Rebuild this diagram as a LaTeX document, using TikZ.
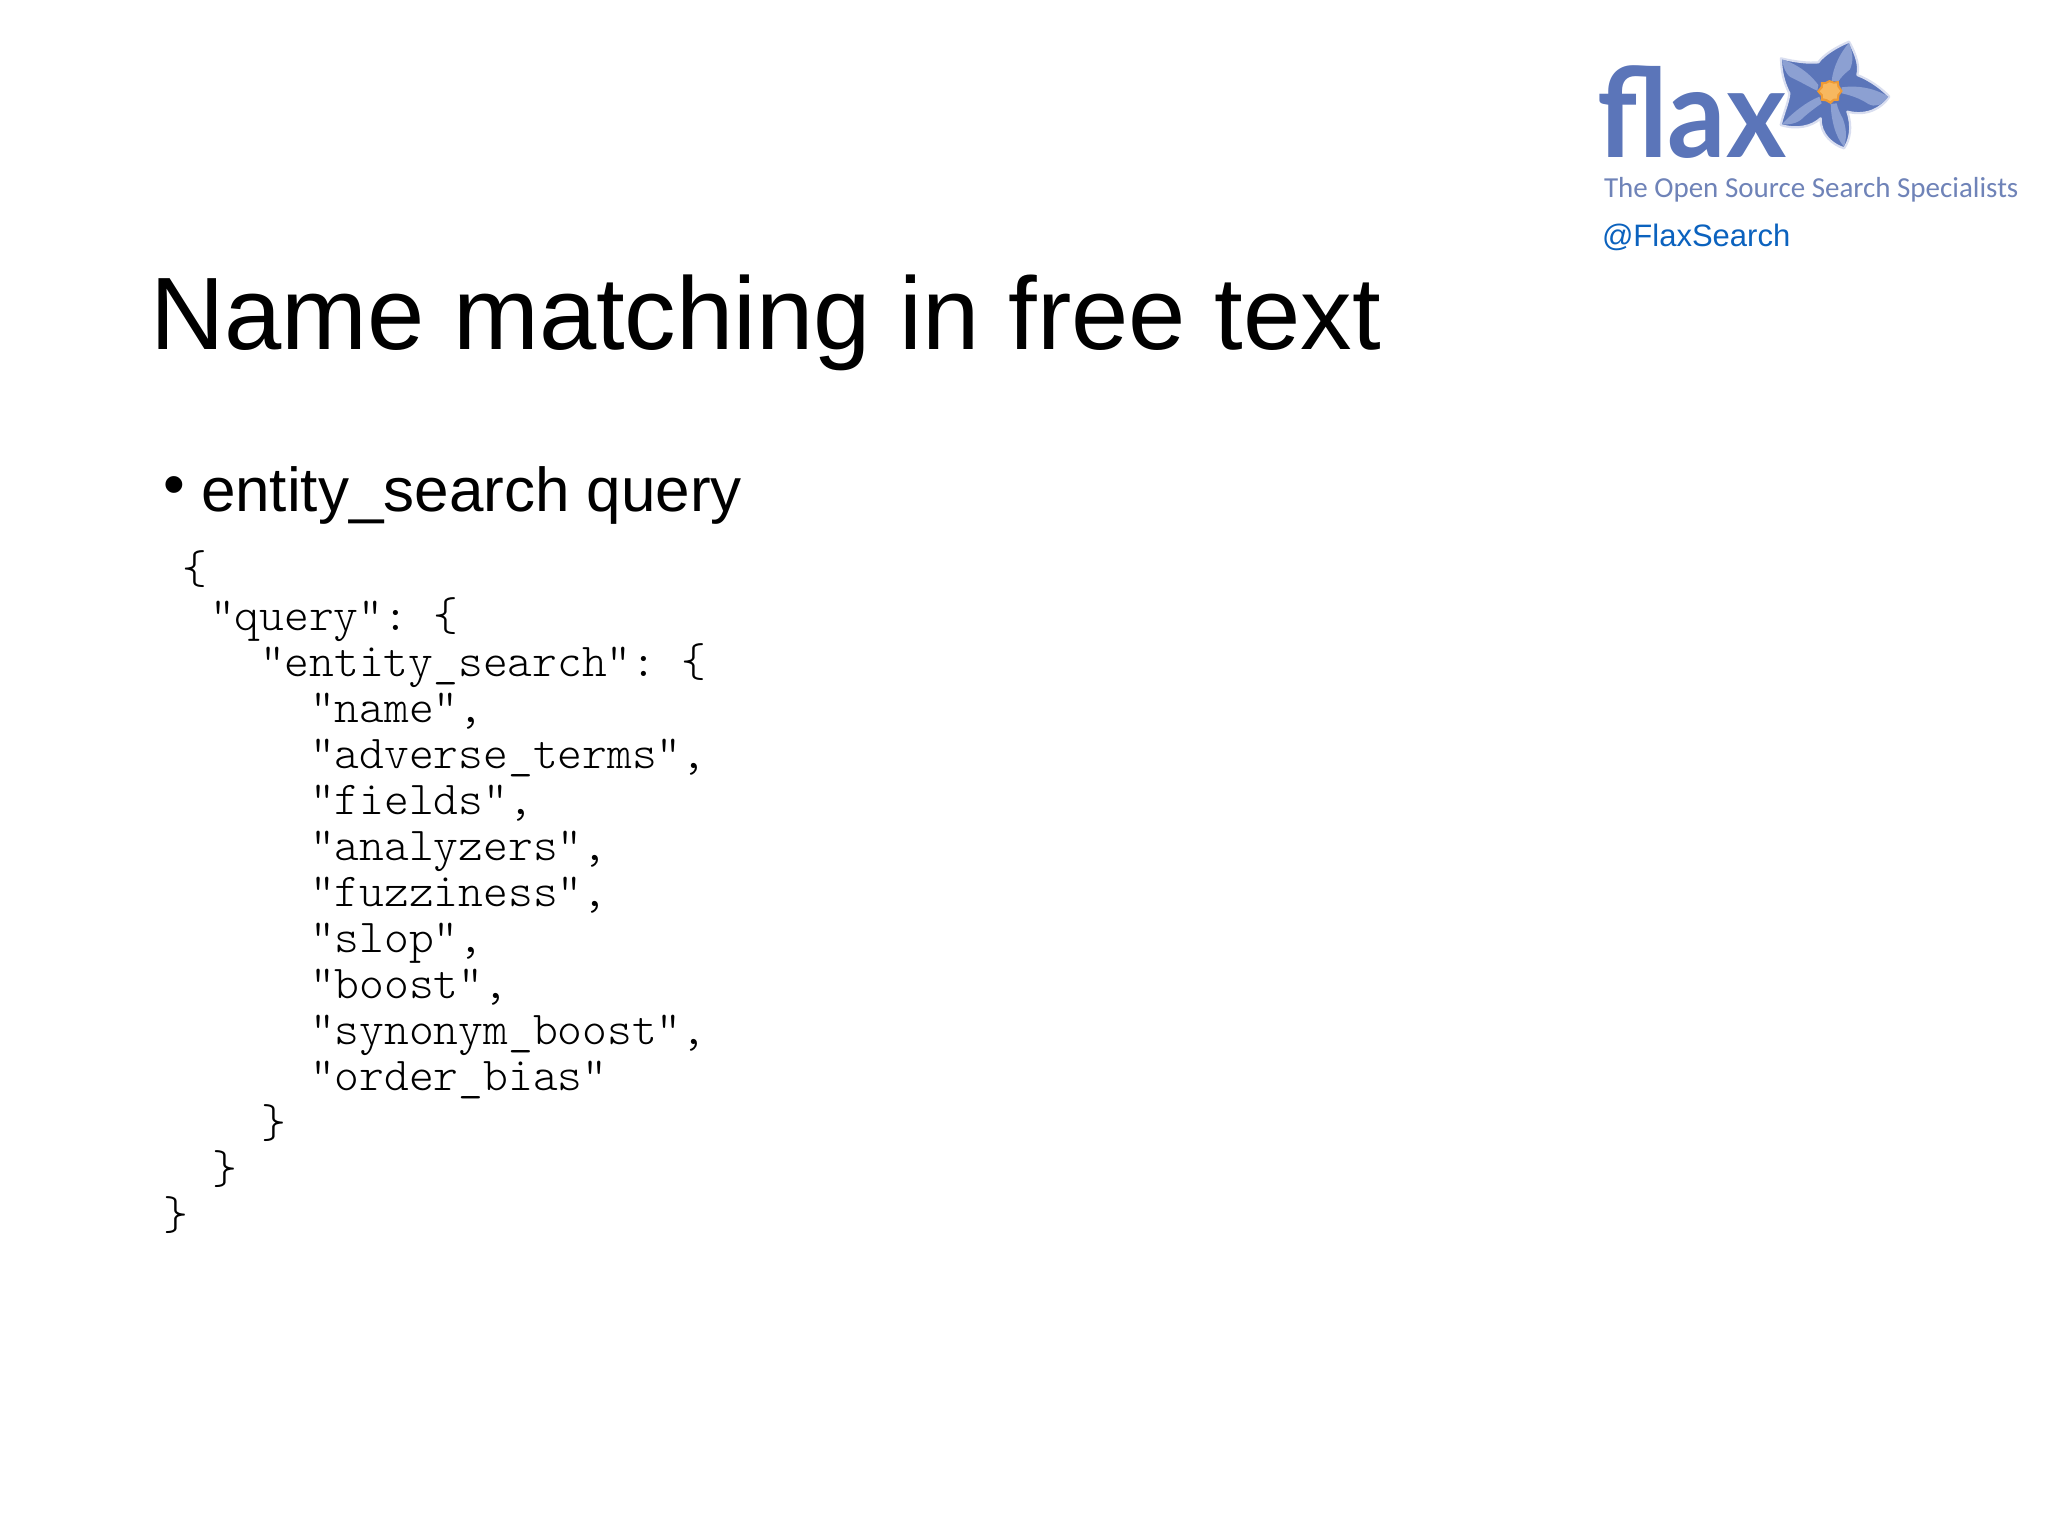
\documentclass[tikz,border=0pt]{standalone}
\usepackage{fontspec}
\setmainfont{Liberation Sans}
\setmonofont{Latin Modern Mono Light}
\newfontfamily\logofont{Lato}
\newfontfamily\tagfont{Carlito}
\definecolor{flaxblue}{HTML}{5B75B9}
\definecolor{flaxlight}{HTML}{8CA0D2}
\definecolor{flaxrim}{HTML}{D9DEF0}
\definecolor{flaxorange}{HTML}{F7B860}
\definecolor{flaxdeep}{HTML}{EE9A35}
\definecolor{tagblue}{HTML}{6F83B8}
\definecolor{handleblue}{HTML}{0B62BE}
\tikzset{
 txt/.style={inner sep=0pt,outer sep=0pt,anchor=base west},
 code/.style={txt,font=\ttfamily\fontsize{47.2}{46}\selectfont},
 stripe/.style={fill=flaxlight,draw=none}
}
\begin{document}
\begin{tikzpicture}[x=1pt,y=-1pt]
\useasboundingbox[fill=white] (0,0) rectangle (2048,1535);
\node[txt,font=\fontsize{103}{110}\selectfont] (title) at (150,349) {Name matching in free text};
\node[txt,font=\fontsize{62}{70}\selectfont] (bullet) at (163,505) {•};
\node[txt,font=\fontsize{62}{70}\selectfont] (sub) at (201,511) {entity\_search query};
\node[code] (l1) at (182,583) {\{};
\node[code] (l2) at (210,630) {"query": \{};
\node[code] (l3) at (260,676) {"entity\_search": \{};
\node[code] (l4) at (310,722) {"name",};
\node[code] (l5) at (310,768) {"adverse\_terms",};
\node[code] (l6) at (310,814) {"fields",};
\node[code] (l7) at (310,860) {"analyzers",};
\node[code] (l8) at (310,906) {"fuzziness",};
\node[code] (l9) at (310,952) {"slop",};
\node[code] (l10) at (310,998) {"boost",};
\node[code] (l11) at (310,1044) {"synonym\_boost",};
\node[code] (l12) at (310,1090) {"order\_bias"};
\node[code] (l13) at (261,1137) {\}};
\node[code] (l14) at (212,1183) {\}};
\node[code] (l15) at (163,1229) {\}};
\node[txt,font=\logofont\bfseries\fontsize{122}{130}\selectfont,text=flaxblue] (flax) at (1597,157) {\scalebox{.945}[1.02]{flax}};
\node[txt,font=\tagfont\fontsize{29}{32}\selectfont,text=tagblue] (tag) at (1604,197) {The Open Source Search Specialists};
\node[txt,font=\fontsize{31}{36}\selectfont,text=handleblue] (handle) at (1602,246) {@FlaxSearch};
\begin{scope}[shift={(1770,30)},scale=1/3]
\filldraw[fill=flaxblue,draw=flaxrim,line width=2.2pt,line join=round]
 (237,35) .. controls (262,80) and (268,110) .. (262,135)
 .. controls (300,150) and (335,175) .. (358,200)
 .. controls (335,235) and (290,260) .. (232,245)
 .. controls (248,290) and (240,330) .. (222,355)
 .. controls (190,345) and (150,315) .. (152,265)
 .. controls (125,290) and (80,300) .. (32,285)
 .. controls (40,250) and (55,220) .. (58,190)
 .. controls (40,155) and (33,120) .. (33,85)
 .. controls (75,95) and (115,100) .. (145,97)
 .. controls (160,75) and (200,50) .. (237,35) -- cycle;
\fill[stripe] (185,152) .. controls (190,110) and (210,70) .. (237,38)
 .. controls (250,70) and (250,95) .. (240,118) .. controls (225,130) and (212,142) .. (205,155) -- cycle;
\fill[stripe] (215,172) .. controls (265,165) and (315,175) .. (355,200)
 .. controls (335,228) and (315,232) .. (295,222) .. controls (270,205) and (240,195) .. (215,190) -- cycle;
\fill[stripe] (182,222) .. controls (183,265) and (195,320) .. (222,350)
 .. controls (232,320) and (228,290) .. (218,265) .. controls (210,250) and (203,235) .. (200,220) -- cycle;
\fill[stripe] (148,200) .. controls (110,215) and (65,250) .. (36,283)
 .. controls (70,285) and (90,275) .. (105,258) .. controls (120,245) and (140,230) .. (155,220) -- cycle;
\fill[stripe] (145,165) .. controls (115,125) and (75,100) .. (36,88)
 .. controls (42,125) and (55,142) .. (75,148) .. controls (100,160) and (125,175) .. (142,182) -- cycle;
\fill[flaxdeep] (178,150) -- (192,155) -- (206,153) -- (208,167) -- (218,183) -- (208,197) -- (207,212) -- (192,213) -- (182,222) -- (168,214) -- (152,212) -- (153,198) -- (141,184) -- (152,170) -- (153,156) -- (166,156) -- cycle;
\fill[flaxorange] (178,157) -- (190,161) -- (200,160) -- (202,171) -- (211,183) -- (202,193) -- (200,206) -- (190,206) -- (181,213) -- (170,207) -- (159,205) -- (159,194) -- (149,184) -- (159,173) -- (160,162) -- (169,162) -- cycle;
\end{scope}
\end{tikzpicture}
\end{document}
